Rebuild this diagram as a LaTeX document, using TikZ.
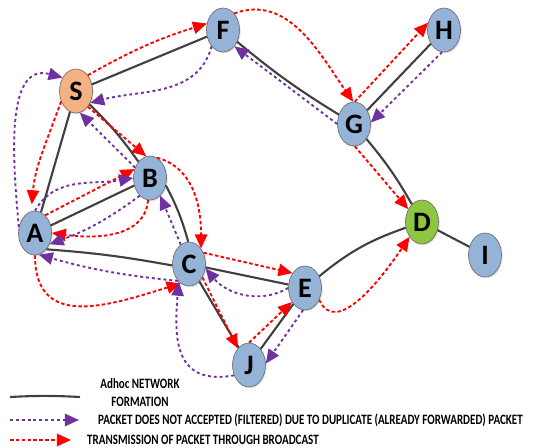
\documentclass[tikz,border=0pt]{standalone}
\usepackage{fontspec}
\setmainfont{Carlito}
\usepackage{graphicx}
\usepackage{tikz}
\usetikzlibrary{shapes.geometric,arrows.meta,shadows}

\definecolor{nodeblue}{RGB}{149,179,215}
\definecolor{srcorange}{RGB}{244,178,132}
\definecolor{dstgreen}{RGB}{141,198,63}
\definecolor{linkgray}{RGB}{64,64,64}
\definecolor{duppurple}{RGB}{112,48,160}

\newcommand{\tallText}[1]{\scalebox{1}[1.3]{#1}}

\begin{document}
\begin{tikzpicture}[x=0.03cm,y=0.03cm,
        nd/.style={ellipse,draw=black!60,line width=0.5pt,fill=nodeblue,
            minimum width=0.99cm,minimum height=1.32cm,inner sep=0pt,
            font=\fontsize{24}{24}\selectfont\bfseries,
            drop shadow={opacity=0.25,shadow xshift=1pt,shadow yshift=-1pt}},
        link/.style={draw=linkgray,line width=1.8pt},
        bcast/.style={draw=red,line width=1.6pt,dash pattern=on 3pt off 2pt,
            -{Triangle[length=12pt,width=10.5pt]}},
        dup/.style={draw=duppurple,line width=1.6pt,dash pattern=on 2.5pt off 2.5pt,
            -{Triangle[length=12pt,width=10.5pt]}},
        note/.style={font=\fontsize{9.4}{9.4}\selectfont\bfseries,inner sep=0pt}]
        \useasboundingbox (0,0) rectangle (557,448);

        \node[nd,fill=srcorange] (S) at (76,357) {S};
        \node[nd] (F) at (223,418) {F};
        \node[nd] (H) at (444,418) {H};
        \node[nd] (G) at (354,324) {G};
        \node[nd] (B) at (150,270) {B};
        \node[nd] (A) at (35,215) {A};
        \node[nd] (C) at (189,184) {C};
        \node[nd] (E) at (305,160) {E};
        \node[nd,fill=dstgreen] (D) at (422,226) {D};
        \node[nd] (I) at (485,193) {I};
        \node[nd] (J) at (249,83) {J};

        \draw[link] (S) -- (F);
        \draw[link] (S) -- (A);
        \draw[link] (S) to[bend left=5] (B);
        \draw[link] (B.-25) to[bend left=6] (C.92);
        \draw[link] (A) -- (B);
        \draw[link] (A.-55) to[bend left=3] (C.185);
        \draw[link] (C) -- (E);
        \draw[link] (C) -- (J);
        \draw[link] (E) -- (J);
        \draw[link] (E) to[bend left=10] (D);
        \draw[link] (D) -- (I);
        \draw[link] (F) to[bend right=4] (G);
        \draw[link] (G) to[bend left=5] (D);
        \draw[link] (G) -- (H);

        \draw[bcast] (S.53) to[bend left=6] (F.158);
        \draw[bcast] (F.56) to[out=20,in=125] (G.92);
        \draw[bcast] (G.88) -- (H.155);
        \draw[bcast] (G.272) -- (D.137);
        \draw[bcast] (E.-40) to[out=-65,in=-124] (D.230);
        \draw[bcast] (S.-53) -- (B.100);
        \draw[bcast,shorten >=6pt] (S.215) to[out=250,in=85] (A.100);
        \draw[bcast] (A.60) -- (B.150);
        \draw[bcast] (B.265) to[out=265,in=-8] (A.0);
        \draw[bcast] (B.71) to[out=-15,in=90] (C.52);
        \draw[bcast] (A.270) to[out=270,in=197,looseness=1.3] (C.247);
        \draw[bcast] (C.38) -- (E.130);
        \draw[bcast] (C.-45) -- (J.124);
        \draw[bcast] (J.90) -- (E.227);

        \draw[dup] (A.160) to[out=95,in=165] (S.135);
        \draw[dup] (F.235) to[out=255,in=15] (S.-40);
        \draw[dup] (G.180) -- (F.-55);
        \draw[dup] (H.265) -- (G.5);
        \draw[dup] (B.145) -- (S.-80);
        \draw[dup] (A.90) to[out=60,in=190] (B.180);
        \draw[dup] (B.240) to[bend left=8] (A.-38);
        \draw[dup] (C.113) -- (B.-60);
        \draw[dup] (C.237) to[bend left=5] (A.-80);
        \draw[dup] (E.180) to[out=210,in=-50] (C.-15);
        \draw[dup] (J.215) to[out=190,in=265,looseness=1.4] (C.240);
        \draw[dup] (E.-95) -- (J.5);

        \coordinate (netA) at (10,51);
        \coordinate (netB) at (80,51);
        \draw[link] (netA) to[bend left=3] (netB);
        \node[note,align=center] (netnote) at (140,55) {\tallText{Adhoc NETWORK}\\[6pt]\tallText{FORMATION}};

        \coordinate (dupA) at (10,28);
        \coordinate (dupB) at (79,28);
        \draw[dup] (dupA) -- (dupB);
        \node[note,anchor=west] (dupnote) at (98,28) {\tallText{PACKET DOES NOT ACCEPTED (FILTERED) DUE TO DUPLICATE (ALREADY FORWARDED) PACKET}};

        \coordinate (bcA) at (10,8);
        \coordinate (bcB) at (71,8);
        \draw[bcast] (bcA) -- (bcB);
        \node[note,anchor=west] (bcnote) at (87,8) {\tallText{TRANSMISSION OF PACKET THROUGH BROADCAST}};
\end{tikzpicture}
\end{document}
